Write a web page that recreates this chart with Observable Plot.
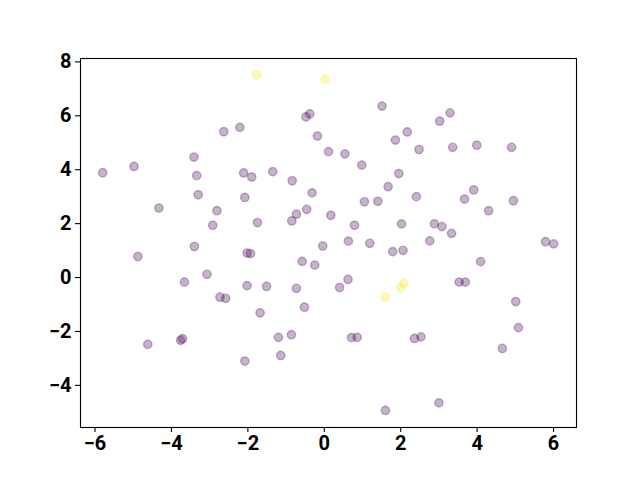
<!DOCTYPE html>
<html>
<head>
<meta charset="utf-8">
<script src="https://cdn.jsdelivr.net/npm/d3@7"></script>
<script src="https://cdn.jsdelivr.net/npm/@observablehq/plot@0.6"></script>
<style>
  html, body { margin: 0; padding: 0; background: #fff; }
</style>
</head>
<body>
<div id="chart"></div>
<script>
// Purple points (class 0)
const xPurple = [-2.63,-2.21,-3.41,-5.80,-4.98,-3.34,-2.11,-1.90,1.51,-0.48,-0.38,-0.18,1.86,2.17,0.11,0.54,0.98,-1.35,-0.84,1.95,1.67,
  3.29,3.02,2.48,3.36,3.99,4.90,
  -3.30,-2.08,-4.33,-2.81,-2.92,-3.40,-4.88,-2.02,-1.93,-3.07,-3.66,-2.02,-2.73,-2.58,
  -0.32,1.05,1.40,-0.46,-0.73,-0.85,0.17,-1.75,0.79,2.02,-0.04,0.63,1.19,1.79,2.06,-0.58,-0.25,-1.51,-0.73,0.40,0.62,
  2.41,3.91,3.67,4.95,4.30,2.88,3.08,3.33,2.76,5.79,6.00,4.09,3.53,3.69,5.01,
  -4.62,-3.76,-3.71,-2.08,
  -1.68,-0.52,-1.20,-0.86,-1.14,0.71,0.86,1.60,
  5.08,4.66,2.36,2.53,3.00];
const yPurple = [5.41,5.57,4.47,3.89,4.12,3.78,3.88,3.73,6.36,5.96,6.07,5.25,5.10,5.40,4.67,4.59,4.17,3.93,3.59,3.86,3.37,
  6.11,5.80,4.75,4.83,4.91,4.83,
  3.07,2.97,2.58,2.48,1.94,1.15,0.78,0.91,0.89,0.12,-0.17,-0.30,-0.73,-0.77,
  3.14,2.81,2.83,2.53,2.35,2.10,2.31,2.04,1.94,1.99,1.17,1.35,1.27,0.96,1.01,0.60,0.46,-0.33,-0.40,-0.37,-0.07,
  3.00,3.25,2.91,2.85,2.48,1.99,1.89,1.64,1.36,1.33,1.25,0.59,-0.17,-0.17,-0.89,
  -2.48,-2.33,-2.27,-3.10,
  -1.31,-1.10,-2.22,-2.12,-2.89,-2.23,-2.22,-4.93,
  -1.86,-2.63,-2.26,-2.20,-4.65];
// Yellow points (class 1)
const xYellow = [-1.77,0.02,1.59,2.00,2.08];
const yYellow = [7.52,7.36,-0.73,-0.38,-0.21];

const xTicks = [-6,-4,-2,0,2,4,6];
const yTicks = [-4,-2,0,2,4,6,8];

const data = [
  ...xPurple.map((x, i) => ({x, y: yPurple[i], c: 0})),
  ...xYellow.map((x, i) => ({x, y: yYellow[i], c: 1}))
];

const fmt = d => (d < 0 ? "\u2212" : "") + Math.abs(d);

const chart = Plot.plot({
  width: 640,
  height: 480,
  marginLeft: 80,
  marginRight: 64,
  marginTop: 58,
  marginBottom: 53,
  style: {fontFamily: "Roboto, 'Liberation Sans', sans-serif", fontSize: "20px", fontWeight: "bold", color: "black", background: "white", overflow: "visible"},
  x: {domain: [-6.38, 6.60]},
  y: {domain: [-5.563, 8.126]},
  color: {type: "linear", scheme: "viridis", domain: [0, 1]},
  marks: [
    Plot.dot(data, {x: "x", y: "y", r: 4.17, fill: "c", stroke: "c", fillOpacity: 0.3, strokeOpacity: 0.3, strokeWidth: 1.39}),
    Plot.frame({stroke: "black", strokeWidth: 1.1}),
    Plot.axisX({ticks: xTicks, tickFormat: fmt, tickSize: 5, tickPadding: 3, label: null, fontSize: 20, fontWeight: "bold", strokeWidth: 1.1}),
    Plot.axisY({ticks: yTicks, tickFormat: fmt, tickSize: 5, tickPadding: 4, label: null, fontSize: 20, fontWeight: "bold", strokeWidth: 1.1})
  ]
});
document.getElementById("chart").appendChild(chart);
</script>
</body>
</html>
